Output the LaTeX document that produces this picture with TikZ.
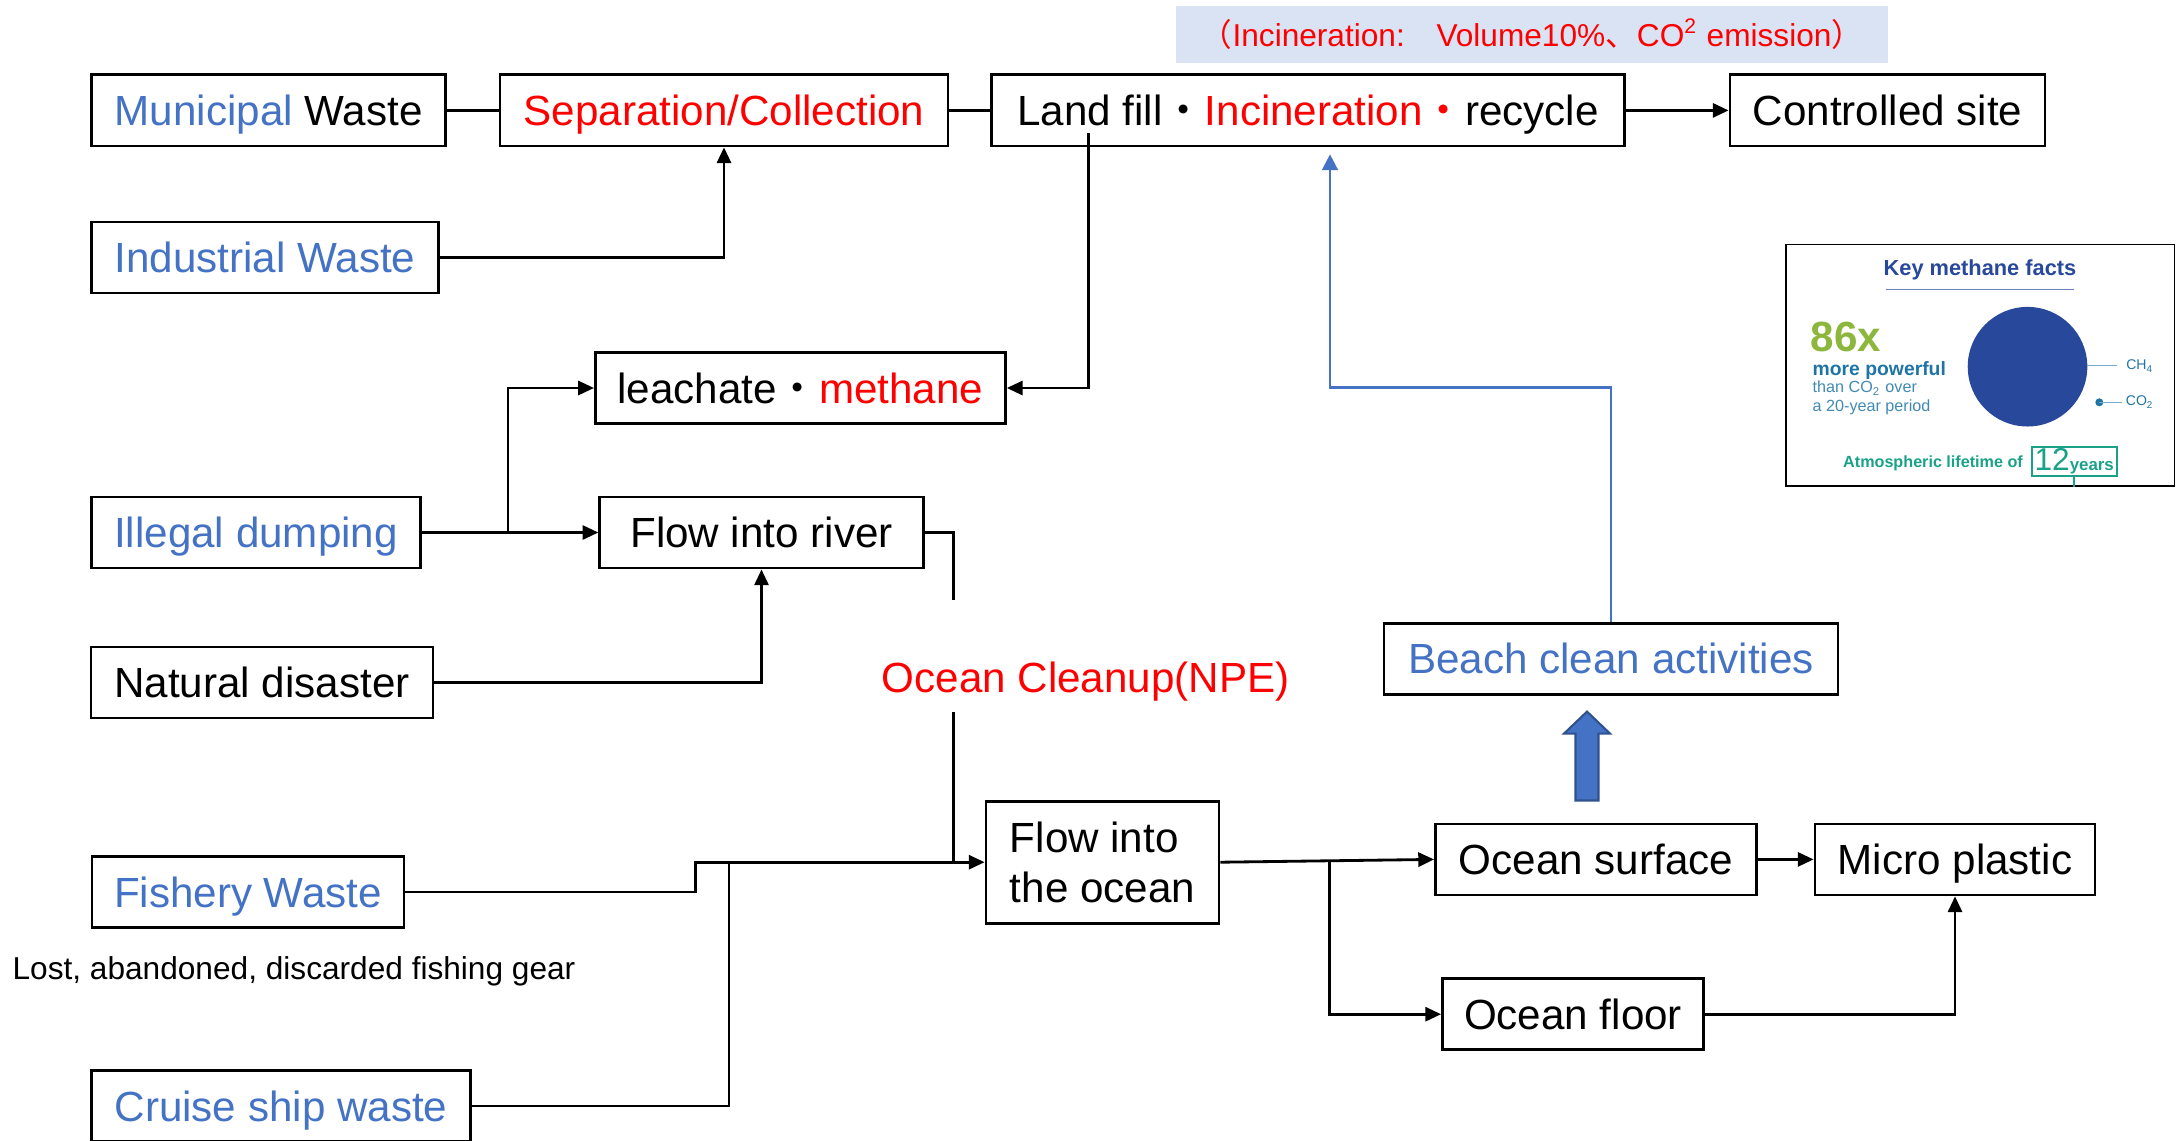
\documentclass[tikz,border=0pt]{standalone}
\usepackage{fontspec}
\setmainfont{Liberation Sans}
\newfontfamily\cjk{Noto Sans CJK SC}
\usepackage{tikz}
\usetikzlibrary{arrows.meta}
\usetikzlibrary{calc}
\definecolor{wasteblue}{HTML}{4472C4}
\definecolor{edgeblue}{HTML}{2F528F}
\definecolor{bandblue}{HTML}{DAE3F3}
\definecolor{factblue}{HTML}{27489B}
\definecolor{factsteel}{HTML}{1F74A6}
\definecolor{factgreen}{HTML}{8CB63C}
\definecolor{factteal}{HTML}{19A287}

\begin{document}
\begin{tikzpicture}[
  frame/.style={draw, line width=0.8pt, minimum height=0.71cm, inner sep=0pt, font=\fontsize{12}{14.2}\selectfont},
  box/.style={frame, text height=8.6pt, text depth=0pt},
  flow/.style={line width=0.8pt, -{Triangle[length=4.5pt,width=4pt]}},
  link/.style={line width=0.8pt},
  back/.style={line width=0.7pt, wasteblue, -{Triangle[length=4.5pt,width=4.5pt]}, shorten >=2pt}]
  \useasboundingbox (0,0) rectangle (21.77,-11.40);
  \node[fill=bandblue, minimum width=7.12cm, minimum height=0.57cm, text=red, font=\fontsize{9}{10}\selectfont] (band) at (15.32,-0.34)
    {{\cjk （}Incineration:{\cjk 　}Volume10\%{\cjk 、}CO\textsuperscript{2} emission{\cjk ）}};
  \node[box, minimum width=3.54cm] (muni) at (2.687,-1.104) {\textcolor{wasteblue}{Municipal} Waste};
  \node[box, minimum width=4.48cm, text=red] (sep) at (7.24,-1.104) {Separation/Collection};
  \node[box, minimum width=6.33cm] (landfill) at (13.08,-1.104) {Land fill{\cjk ・}\textcolor{red}{Incineration{\cjk ・}}recycle};
  \node[box, minimum width=3.15cm] (site) at (18.875,-1.104) {Controlled site};
  \node[box, minimum width=3.47cm, text=wasteblue] (industrial) at (2.65,-2.575) {Industrial Waste};
  \node[box, minimum width=4.10cm] (leach) at (8.004,-3.88) {leachate{\cjk ・}\textcolor{red}{methane}};
  \node[box, minimum width=3.29cm, text=wasteblue] (illegal) at (2.56,-5.325) {Illegal dumping};
  \node[box, minimum width=3.235cm] (river) at (7.615,-5.325) {Flow into river};
  \node[box, minimum width=3.42cm] (natural) at (2.62,-6.824) {Natural disaster};
  \node[text=red, font=\fontsize{12}{14}\selectfont] (npe) at (10.857,-6.815) {Ocean Cleanup(NPE)};
  \node[box, minimum width=4.54cm, text=wasteblue] (beach) at (16.11,-6.588) {Beach clean activities};
  \node[frame, minimum width=2.33cm, minimum height=1.22cm, align=left] (ocean) at (11.025,-8.622) {Flow into\\the ocean};
  \node[box, minimum width=3.21cm] (surface) at (15.96,-8.594) {Ocean surface};
  \node[box, minimum width=2.80cm] (micro) at (19.55,-8.594) {Micro plastic};
  \node[box, minimum width=2.61cm] (oceanfloor) at (15.73,-10.142) {Ocean floor};
  \node[box, minimum width=3.12cm, text=wasteblue] (fishery) at (2.48,-8.92) {Fishery Waste};
  \node[font=\fontsize{9}{11}\selectfont] (gear) at (2.94,-9.717) {Lost, abandoned, discarded fishing gear};
  \node[box, minimum width=3.79cm, text=wasteblue] (cruise) at (2.81,-11.06) {Cruise ship waste};

  \coordinate (fillout) at (10.885,-1.33);
  \coordinate (dumpsplit) at (5.08,-5.325);
  \coordinate (npetop) at (9.538,-5.998);
  \coordinate (npebot) at (9.538,-7.122);
  \coordinate (fishstep) at (6.956,-8.622);
  \coordinate (cruisejoin) at (7.29,-8.622);
  \coordinate (oceansplit) at ($(ocean.east)!0.51!(surface.west)$);
  \coordinate (bluebend) at (13.30,-3.874);
  \coordinate (liftbase) at ([xshift=-0.09cm,yshift=0.22cm]surface.north);

  \draw[link] (muni) -- (sep);
  \draw[link] (sep) -- (landfill);
  \draw[flow] (landfill) -- (site);
  \draw[flow] (industrial.east) -| (sep.south);
  \draw[flow] (fillout) |- (leach.east);
  \draw[flow] (illegal) -- (river);
  \draw[flow] (dumpsplit) |- (leach.west);
  \draw[flow] (natural.east) -| (river.south);
  \draw[link] (river.east) -| (npetop);
  \draw[link] (npebot) -- (npebot |- ocean.west);
  \draw[flow] (fishery.east) -| (fishstep) -- (ocean.west);
  \draw[link] (cruise.east) -| (cruisejoin);
  \draw[flow] (ocean.east) -- (surface.west);
  \draw[flow] (oceansplit) |- (oceanfloor.west);
  \draw[flow] (surface) -- (micro);
  \draw[flow] (oceanfloor.east) -| (micro.south);
  \draw[back] (beach.north) |- (bluebend) -- (bluebend |- landfill.south);
  \filldraw[fill=wasteblue, draw=edgeblue, line width=0.6pt] (liftbase) ++(-0.115,0) -- ++(0,0.669) -- ++(-0.115,0)
    -- ++(0.23,0.22) -- ++(0.23,-0.22) -- ++(-0.115,0) -- ++(0,-0.669) -- cycle;

  % methane facts inset
  \node[draw, line width=0.5pt, minimum width=3.887cm, minimum height=2.416cm] (facts) at (19.80,-3.652) {};
  \node[font=\bfseries\fontsize{6.2}{7}\selectfont, text=factblue] (factstitle) at (19.80,-2.70) {Key methane facts};
  \draw[factblue!70, line width=0.4pt] (18.86,-2.893) -- (20.74,-2.893);
  \node[anchor=west, inner sep=0pt, font=\bfseries\fontsize{12}{12}\selectfont, text=factgreen] (times) at (18.10,-3.367) {86x};
  \node[anchor=west, inner sep=0pt, font=\bfseries\fontsize{5.5}{6}\selectfont, text=factsteel] (powerful) at (18.12,-3.70) {more powerful};
  \node[anchor=west, inner sep=0pt, align=left, font=\fontsize{4.6}{5.3}\selectfont, text=factsteel!85] (period) at (18.12,-3.975) {than CO\textsubscript{2} over\\a 20-year period};
  \fill[factblue] (20.275,-3.667) circle (0.598);
  \draw[factsteel!60, line width=0.4pt] (20.873,-3.657) -- (21.167,-3.657);
  \node[font=\fontsize{4}{5}\selectfont, text=factsteel] (chfour) at (21.40,-3.66) {CH\textsubscript{4}};
  \fill[factsteel] (20.993,-4.023) circle (0.04);
  \draw[factsteel!60, line width=0.4pt] (20.993,-4.023) -- (21.217,-4.023);
  \node[font=\fontsize{4}{5}\selectfont, text=factsteel] (cotwo) at (21.40,-4.02) {CO\textsubscript{2}};
  \node[font=\bfseries\fontsize{4.6}{5}\selectfont, text=factteal] (lifetime) at (19.33,-4.633) {Atmospheric lifetime of};
  \node[draw=factteal, line width=0.5pt, minimum width=0.85cm, minimum height=0.29cm, inner sep=0pt, text=factteal] (twelve) at (20.742,-4.613)
    {{\fontsize{9}{9}\selectfont 12}{\bfseries\fontsize{4.8}{5}\selectfont years}};
  \draw[factteal, line width=0.5pt] (twelve.south) -- (twelve.south |- facts.south);
\end{tikzpicture}
\end{document}
